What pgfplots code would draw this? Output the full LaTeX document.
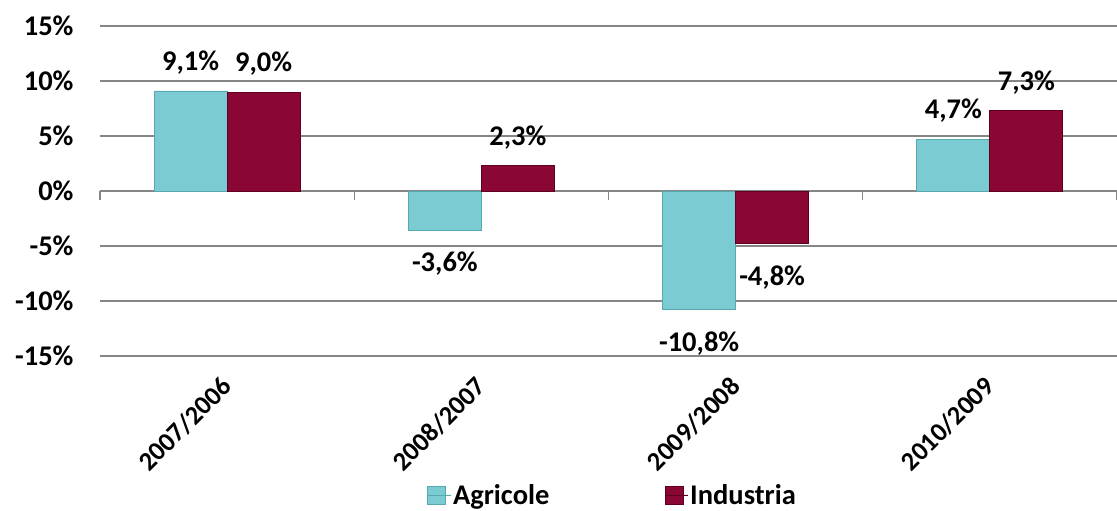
\documentclass[border=0pt]{standalone}
\usepackage{pgfplots}
\pgfplotsset{compat=1.18}
\usepackage{fontspec}
\setmainfont{Carlito}
\definecolor{agri}{RGB}{122,204,210}
\definecolor{agriD}{RGB}{88,168,176}
\definecolor{indu}{RGB}{138,6,52}
\definecolor{induD}{RGB}{96,0,32}
\definecolor{gridc}{RGB}{134,134,134}
\newcommand{\chartfont}{\bfseries\fontsize{28.5bp}{32bp}\selectfont}
\newcommand{\xfont}{\bfseries\fontsize{26.5bp}{30bp}\selectfont}
\begin{document}
\begin{tikzpicture}
\begin{axis}[
  at={(0,0)}, anchor=south west,
  scale only axis, width=1017bp, height=330bp,
  xmin=-0.5, xmax=3.5, ymin=-15, ymax=15,
  ybar=0pt, bar width=73bp,
  axis line style={draw=none},
  xtick={0,1,2,3},
  xticklabels={2007/2006,2008/2007,2009/2008,2010/2009},
  x tick label style={rotate=45, anchor=north east, xshift=-12bp, yshift=-2bp, font=\xfont},
  major x tick style={draw=none},
  ytick={-15,-10,-5,0,5,10,15},
  yticklabel={\pgfmathprintnumber{\tick}\%},
  y tick label style={xshift=-23bp, font=\chartfont},
  /pgf/number format/assume math mode=true,
  major y tick style={draw=none},
  ymajorgrids, grid style={gridc, line width=1.2bp},
  visualization depends on={y \as \rawy},
  nodes near coords={\pgfmathprintnumber[fixed,fixed zerofill,precision=1,use comma,assume math mode=true]{\pgfplotspointmeta}\%},
  nodes near coords align={vertical},
  every node near coord/.append style={font=\chartfont, black, yshift={ifthenelse(\rawy>0,13,-18)*1bp}},
  legend style={at={(0.504,-0.421)}, anchor=center, draw=none, fill=none,
    legend columns=2, font=\chartfont,
    /tikz/every even column/.append style={column sep=113bp}},
  legend image code/.code={\draw[#1, line width=0.6bp] (0bp,-9bp) rectangle (18bp,9bp); \path (0bp,0bp) -- (23bp,0bp);},
  clip=false,
]
\addplot[fill=agri, draw=agriD, line width=0.8bp] coordinates {(0,9.1) (1,-3.6) (2,-10.8) (3,4.7)};
\addplot[fill=indu, draw=induD, line width=0.8bp] coordinates {(0,9.0) (1,2.3) (2,-4.8) (3,7.3)};
\legend{Agricole,Industria}
\draw[gridc, line width=1.2bp] (axis cs:-0.5,0) -- ++(0bp,-9bp);
\draw[gridc, line width=1.2bp] (axis cs:0.5,0) -- ++(0bp,-9bp);
\draw[gridc, line width=1.2bp] (axis cs:1.5,0) -- ++(0bp,-9bp);
\draw[gridc, line width=1.2bp] (axis cs:2.5,0) -- ++(0bp,-9bp);
\draw[gridc, line width=1.2bp] (axis cs:3.5,0) -- ++(0bp,-9bp);
\end{axis}
\pgfresetboundingbox
\path (-100bp,-155bp) rectangle (1017bp,356bp);
\end{tikzpicture}
\end{document}
